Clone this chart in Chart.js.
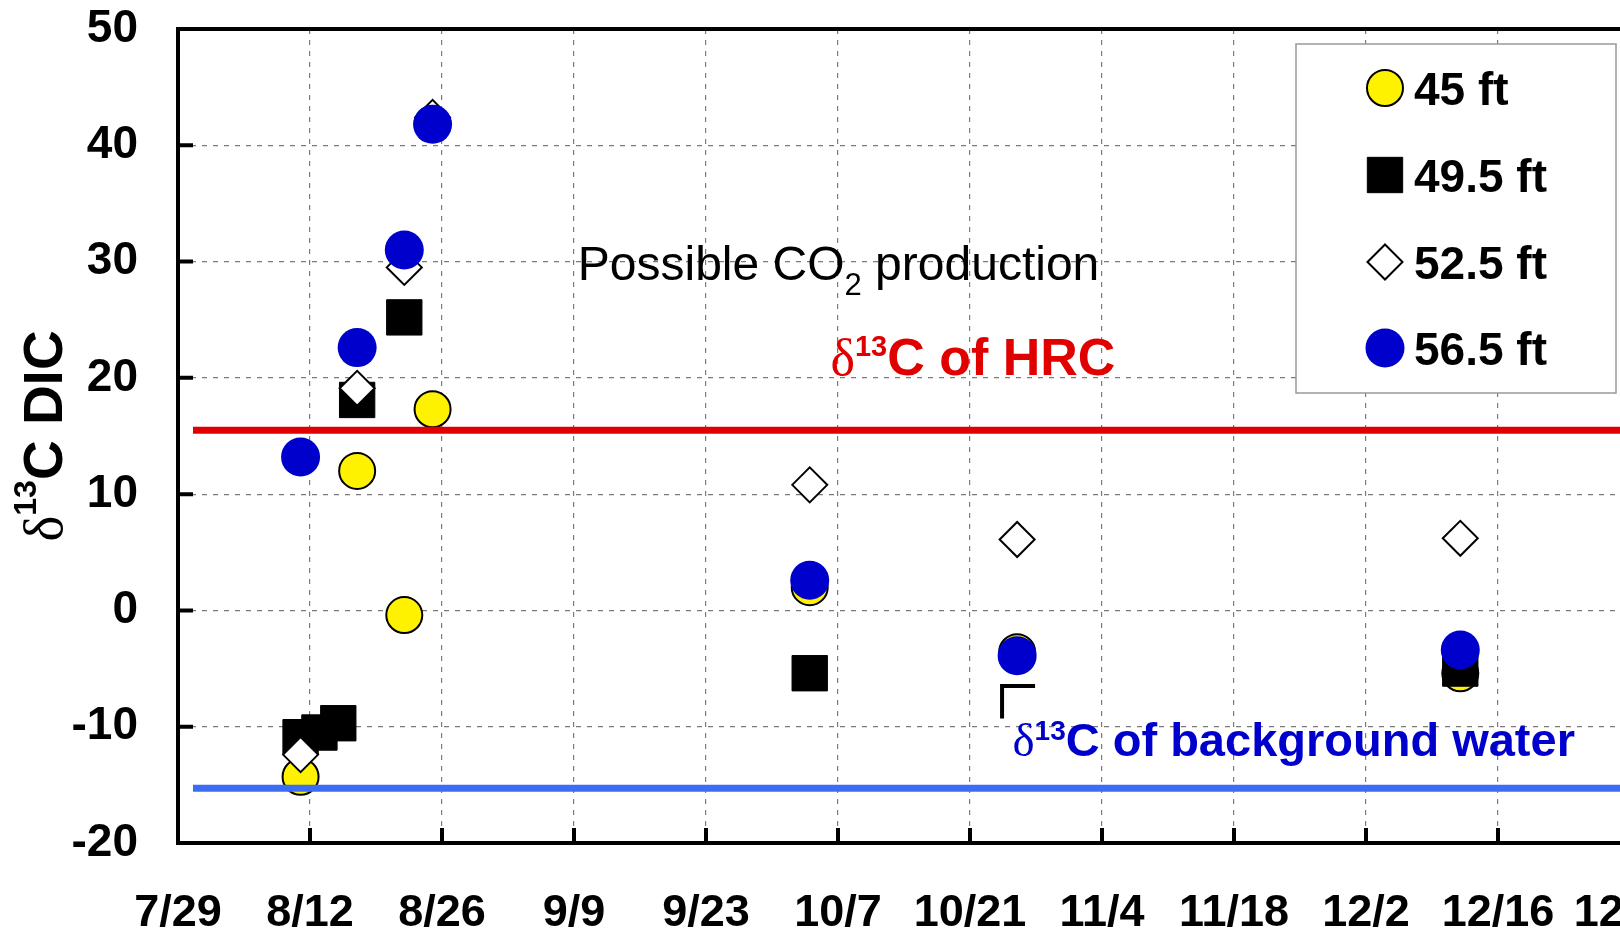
<!DOCTYPE html>
<html>
<head>
<meta charset="utf-8">
<script src="https://cdn.jsdelivr.net/npm/chart.js@4.4.1/dist/chart.umd.min.js"></script>
<style>
  html, body { margin: 0; padding: 0; background: #fff; overflow: hidden; }
  canvas { display: block; }
</style>
</head>
<body>
<canvas id="chart" width="1700" height="934"></canvas>
<script>
// x values are days counted from 7/29
const tickLabels = ['7/29', '8/12', '8/26', '9/9', '9/23', '10/7', '10/21', '11/4', '11/18', '12/2', '12/16', '12/30'];
const xStep = 14;
const yMin = -20;
const yMax = 50;
const yStep = 10;

const days45 = [13, 19, 24, 27, 67, 89, 136];
const vals45 = [-14.3, 12.0, -0.4, 17.3, 2.0, -3.6, -5.4];
const days495 = [13, 15, 17, 19, 24, 67, 136];
const vals495 = [-10.9, -10.5, -9.7, 18.1, 25.2, -5.4, -5.0];
const days525 = [13, 19, 24, 27, 67, 89, 136];
const vals525 = [-12.4, 19.1, 29.5, 42.4, 10.8, 6.1, 6.2];
const days565 = [13, 19, 24, 27, 67, 89, 136];
const vals565 = [13.2, 22.6, 31.0, 41.8, 2.6, -3.9, -3.4];

// reference levels
const hrcLevel = 15.5;
const backgroundLevel = -15.3;

const FONT = "'Liberation Sans', Arial, sans-serif";
const SERIF = "'Liberation Serif', 'Times New Roman', serif";

let toPoints = (days, vals) => days.map((d, i) => ({ x: d, y: vals[i] }));

let drawRich = (ctx, parts, x, y) => {
    let cx = x;
    parts.forEach(p => {
        ctx.font = p.font;
        ctx.fillText(p.text, cx, y - (p.dy || 0));
        cx += ctx.measureText(p.text).width;
    });
    return cx;
};

let richWidth = (ctx, parts) => {
    let w = 0;
    parts.forEach(p => { ctx.font = p.font; w += ctx.measureText(p.text).width; });
    return w;
};

// keep the plot box where the layout padding puts it
let noScalePadding = s => {
    s.paddingTop = 0; s.paddingBottom = 0; s.paddingLeft = 0; s.paddingRight = 0;
};

// ticks pointing inward, top frame line, reference lines, notes and legend
const decor = {
    id: 'decor',
    afterDatasetsDraw(chart) {
        const { ctx, chartArea: area, scales: { y } } = chart;
        ctx.save();
        ctx.lineWidth = 7;
        [[hrcLevel, '#e00000'], [backgroundLevel, '#3b6cf6']].forEach(([v, c]) => {
            const py = y.getPixelForValue(v);
            ctx.strokeStyle = c;
            ctx.beginPath();
            ctx.moveTo(area.left + 15, py);
            ctx.lineTo(area.right, py);
            ctx.stroke();
        });
        ctx.restore();
    },
    afterDraw(chart) {
        const { ctx, chartArea: area, scales: { x, y } } = chart;
        ctx.save();

        // frame top + inward ticks
        ctx.strokeStyle = '#000';
        ctx.lineWidth = 4;
        ctx.beginPath();
        ctx.moveTo(area.left - 2, area.top);
        ctx.lineTo(area.right, area.top);
        y.ticks.forEach(t => {
            const py = y.getPixelForValue(t.value);
            ctx.moveTo(area.left, py);
            ctx.lineTo(area.left + 15, py);
        });
        x.ticks.forEach(t => {
            const px = x.getPixelForValue(t.value);
            ctx.moveTo(px, area.bottom);
            ctx.lineTo(px, area.bottom - 15);
        });
        ctx.stroke();

        // y axis title
        ctx.fillStyle = '#000';
        ctx.textBaseline = 'alphabetic';
        const titleParts = [
            { text: 'δ', font: `55px ${SERIF}` },
            { text: '13', font: `bold 32px ${FONT}`, dy: 26 },
            { text: 'C DIC', font: `bold 55px ${FONT}` }
        ];
        ctx.save();
        ctx.translate(62, (area.top + area.bottom) / 2);
        ctx.rotate(-Math.PI / 2);
        drawRich(ctx, titleParts, -richWidth(ctx, titleParts) / 2, 0);
        ctx.restore();

        // notes
        ctx.fillStyle = '#000';
        drawRich(ctx, [
            { text: 'Possible CO', font: `48px ${FONT}` },
            { text: '2', font: `31px ${FONT}`, dy: -15 },
            { text: ' production', font: `48px ${FONT}` }
        ], x.getPixelForValue(42.4), y.getPixelForValue(28.4));

        ctx.fillStyle = '#e00000';
        drawRich(ctx, [
            { text: 'δ', font: `52px ${SERIF}` },
            { text: '13', font: `bold 29px ${FONT}`, dy: 19 },
            { text: 'C of HRC', font: `bold 52px ${FONT}` }
        ], x.getPixelForValue(69.2), y.getPixelForValue(20.25));

        ctx.fillStyle = '#0000cc';
        drawRich(ctx, [
            { text: 'δ', font: `47px ${SERIF}` },
            { text: '13', font: `bold 28px ${FONT}`, dy: 16 },
            { text: 'C of background water', font: `bold 47px ${FONT}` }
        ], x.getPixelForValue(88.5), y.getPixelForValue(-12.5));

        // leader corner for the background note
        ctx.strokeStyle = '#000';
        ctx.lineWidth = 4;
        ctx.beginPath();
        ctx.moveTo(x.getPixelForValue(90.9), y.getPixelForValue(-6.5));
        ctx.lineTo(x.getPixelForValue(87.4), y.getPixelForValue(-6.5));
        ctx.lineTo(x.getPixelForValue(87.4), y.getPixelForValue(-9.3));
        ctx.stroke();

        // legend box
        const box = { left: 1296, top: 44, right: 1616, bottom: 393 };
        ctx.fillStyle = '#fff';
        ctx.fillRect(box.left, box.top, box.right - box.left, box.bottom - box.top);
        ctx.strokeStyle = '#999';
        ctx.lineWidth = 1.5;
        ctx.strokeRect(box.left, box.top, box.right - box.left, box.bottom - box.top);

        const rowY = [88, 175, 262, 348];
        chart.data.datasets.forEach((ds, i) => {
            const cy = rowY[i];
            ctx.fillStyle = ds.pointBackgroundColor;
            ctx.strokeStyle = ds.pointBorderColor;
            ctx.lineWidth = ds.pointBorderWidth;
            Chart.helpers.drawPoint(ctx, {
                pointStyle: ds.pointStyle,
                radius: ds.pointRadius,
                borderWidth: ds.pointBorderWidth,
                rotation: 0
            }, 1385, cy);
            ctx.fillStyle = '#000';
            ctx.font = `bold 46px ${FONT}`;
            ctx.fillText(ds.label, 1414, cy + 17);
        });

        ctx.restore();
    }
};

const chart = new Chart(document.getElementById('chart'), {
    type: 'scatter',
    data: {
        datasets: [
            {
                label: '45 ft', data: toPoints(days45, vals45), order: 4,
                pointStyle: 'circle', pointRadius: 18,
                pointBackgroundColor: '#fff200', pointBorderColor: '#000', pointBorderWidth: 2
            },
            {
                label: '49.5 ft', data: toPoints(days495, vals495), order: 3,
                pointStyle: 'rect', pointRadius: 25,
                pointBackgroundColor: '#000', pointBorderColor: '#000', pointBorderWidth: 1
            },
            {
                label: '52.5 ft', data: toPoints(days525, vals525), order: 2,
                pointStyle: 'rectRot', pointRadius: 17.5,
                pointBackgroundColor: '#fff', pointBorderColor: '#000', pointBorderWidth: 2
            },
            {
                label: '56.5 ft', data: toPoints(days565, vals565), order: 1,
                pointStyle: 'circle', pointRadius: 19.5,
                pointBackgroundColor: '#0000cc', pointBorderColor: '#0000cc', pointBorderWidth: 0
            }
        ]
    },
    options: {
        responsive: false,
        animation: false,
        events: [],
        layout: { padding: { top: 29, right: 70, bottom: 0, left: 0 } },
        plugins: { legend: { display: false }, tooltip: { enabled: false } },
        scales: {
            x: {
                type: 'linear',
                min: 0,
                max: xStep * (tickLabels.length - 1),
                afterFit: s => { s.height = 91; noScalePadding(s); },
                border: { display: true, color: '#000', width: 4, dash: [5, 6] },
                grid: {
                    drawTicks: false,
                    lineWidth: 1.2,
                    color: c => (c.tick && c.tick.value === 0) ? 'rgba(0,0,0,0)' : '#7a7a7a'
                },
                ticks: {
                    stepSize: xStep,
                    autoSkip: false,
                    maxRotation: 0,
                    padding: 44,
                    color: '#000',
                    font: { family: FONT, size: 45, weight: 'bold' },
                    callback: v => tickLabels[Math.round(v / xStep)]
                }
            },
            y: {
                min: yMin,
                max: yMax,
                afterFit: s => { s.width = 178; noScalePadding(s); },
                border: { display: true, color: '#000', width: 4, dash: [5, 6] },
                grid: {
                    drawTicks: false,
                    lineWidth: 1.2,
                    color: c => (c.tick && (c.tick.value === yMin || c.tick.value === yMax)) ? 'rgba(0,0,0,0)' : '#7a7a7a'
                },
                ticks: {
                    stepSize: yStep,
                    padding: 40,
                    color: '#000',
                    font: { family: FONT, size: 46, weight: 'bold' }
                }
            }
        }
    },
    plugins: [decor]
});
</script>
</body>
</html>
